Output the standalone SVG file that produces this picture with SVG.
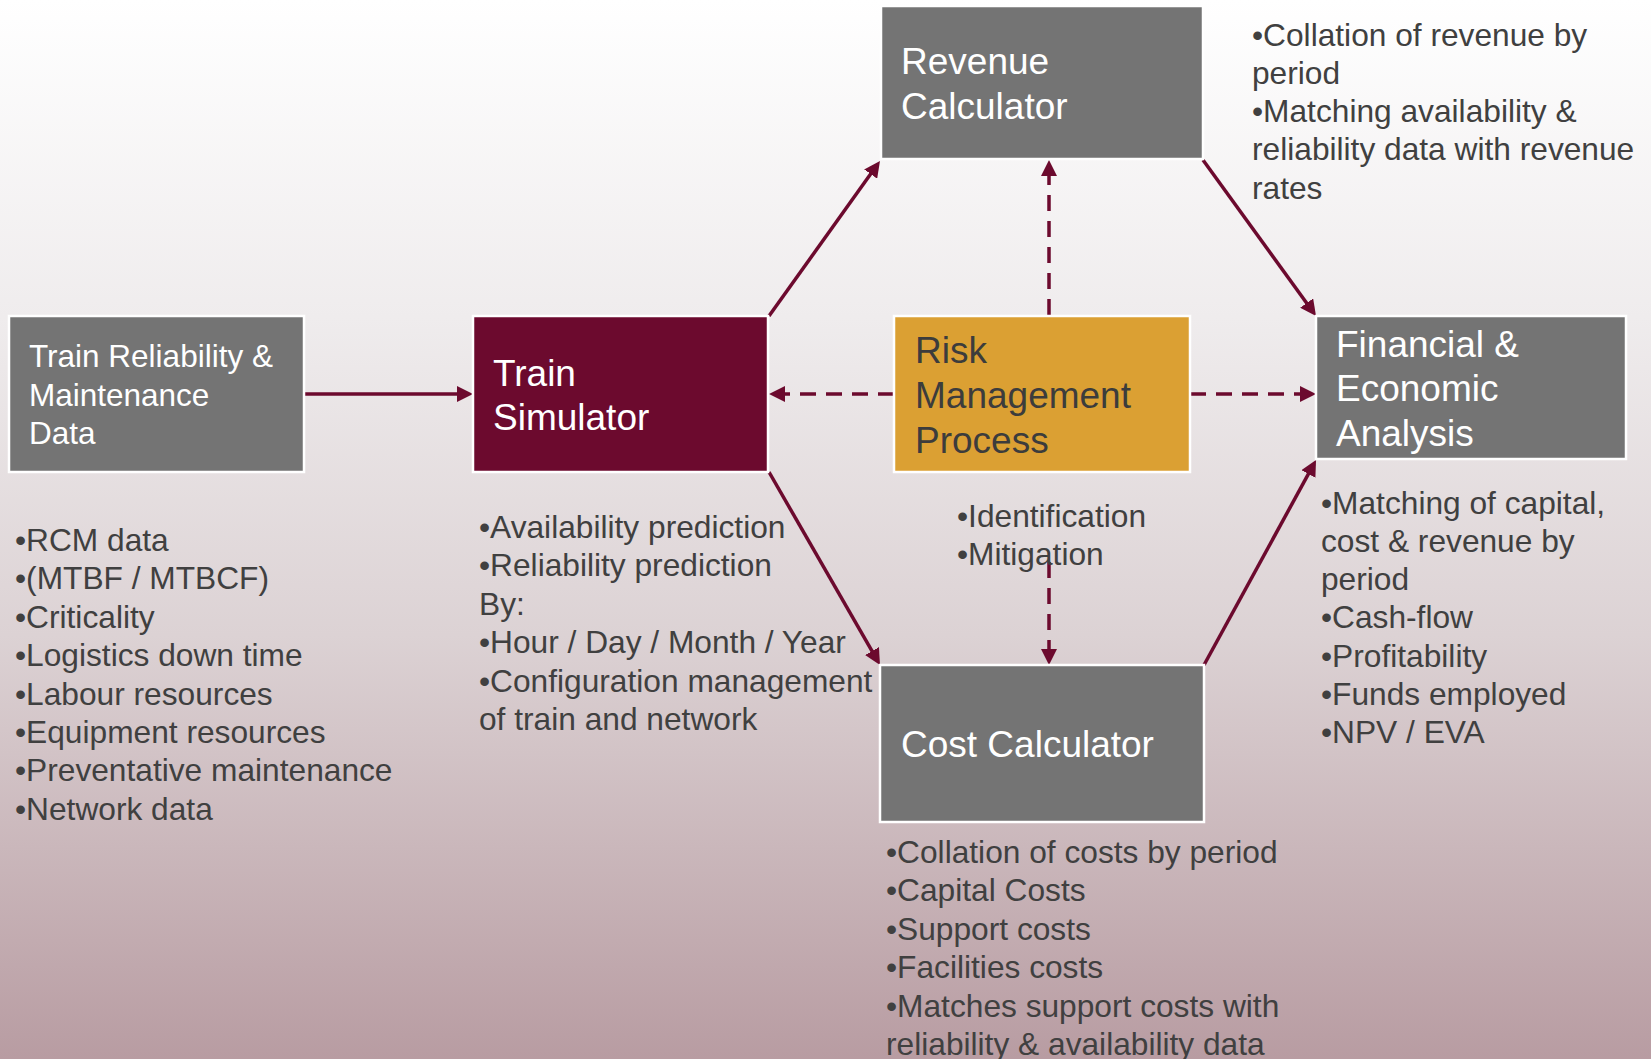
<svg xmlns="http://www.w3.org/2000/svg" width="1651" height="1059" viewBox="0 0 1651 1059">
<style>
.box{stroke:#ffffff;stroke-width:2.5}
.gray{fill:#747474}
.maroon{fill:#6C0A2E}
.gold{fill:#DBA033}
.big{font-family:"Liberation Sans",Arial,sans-serif;font-size:37px;fill:#ffffff}
.mid{font-family:"Liberation Sans",Arial,sans-serif;font-size:31.5px;fill:#ffffff}
.dark{fill:#3c3c3c}
.bul{font-family:"Liberation Sans",Arial,sans-serif;font-size:31.7px;fill:#404040}
.con{stroke:#6C0A2E;stroke-width:3.5;fill:none}
.dash{stroke-dasharray:16 10}
</style>
<defs>
<linearGradient id="bg" x1="0" y1="0" x2="0" y2="1">
<stop offset="0" stop-color="#ffffff"/>
<stop offset="0.3" stop-color="#efeced"/>
<stop offset="0.6" stop-color="#dcd2d4"/>
<stop offset="1" stop-color="#b89ca2"/>
</linearGradient>
<marker id="ah" markerUnits="userSpaceOnUse" markerWidth="16" markerHeight="16" refX="3" refY="8" orient="auto">
<path d="M0,0 L16,8 L0,16 z" fill="#6C0A2E"/>
</marker>
</defs>
<rect x="0" y="0" width="1651" height="1059" fill="url(#bg)"/>

<g id="connectors">
<line class="con" x1="304" y1="394" x2="460" y2="394" marker-end="url(#ah)"/>
<line class="con" x1="769" y1="316" x2="872.4" y2="171.6" marker-end="url(#ah)"/>
<line class="con" x1="1203" y1="160" x2="1308.4" y2="305.5" marker-end="url(#ah)"/>
<line class="con" x1="769" y1="472" x2="873.5" y2="653.7" marker-end="url(#ah)"/>
<line class="con" x1="1204" y1="665" x2="1309.8" y2="471.4" marker-end="url(#ah)"/>
<line class="con dash" x1="894" y1="394" x2="782" y2="394" marker-end="url(#ah)"/>
<line class="con dash" x1="1190" y1="394" x2="1303" y2="394" marker-end="url(#ah)"/>
<line class="con dash" x1="1049" y1="315" x2="1049" y2="173" marker-end="url(#ah)"/>
<line class="con dash" x1="1049" y1="562" x2="1049" y2="652" marker-end="url(#ah)"/>
</g>

<g id="train-reliability">
<rect class="box gray" x="9" y="316" width="295" height="156"/>
<text class="mid" x="29" y="367">Train Reliability &amp;</text>
<text class="mid" x="29" y="406">Maintenance</text>
<text class="mid" x="29" y="444">Data</text>
</g>

<g id="train-simulator">
<rect class="box maroon" x="473" y="316" width="295" height="156"/>
<text class="big" x="493" y="386">Train</text>
<text class="big" x="493" y="430">Simulator</text>
</g>

<g id="revenue-calculator">
<rect class="box gray" x="881" y="6" width="322" height="153"/>
<text class="big" x="901" y="74">Revenue</text>
<text class="big" x="901" y="119">Calculator</text>
</g>

<g id="risk-management">
<rect class="box gold" x="894" y="316" width="296" height="156"/>
<text class="big dark" x="915" y="363">Risk</text>
<text class="big dark" x="915" y="408">Management</text>
<text class="big dark" x="915" y="453">Process</text>
</g>

<g id="financial-analysis">
<rect class="box gray" x="1316" y="316" width="310" height="143"/>
<text class="big" x="1336" y="357">Financial &amp;</text>
<text class="big" x="1336" y="401">Economic</text>
<text class="big" x="1336" y="446">Analysis</text>
</g>

<g id="cost-calculator">
<rect class="box gray" x="880" y="665" width="324" height="157"/>
<text class="big" x="901" y="757">Cost Calculator</text>
</g>

<g id="reliability-notes">
<text class="bul" x="15" y="551">•RCM data</text>
<text class="bul" x="15" y="589.4">•(MTBF / MTBCF)</text>
<text class="bul" x="15" y="627.8">•Criticality</text>
<text class="bul" x="15" y="666.2">•Logistics down time</text>
<text class="bul" x="15" y="704.6">•Labour resources</text>
<text class="bul" x="15" y="743">•Equipment resources</text>
<text class="bul" x="15" y="781.4">•Preventative maintenance</text>
<text class="bul" x="15" y="819.8">•Network data</text>
</g>

<g id="simulator-notes">
<text class="bul" x="479" y="537.5">•Availability prediction</text>
<text class="bul" x="479" y="576">•Reliability prediction</text>
<text class="bul" x="479" y="614.5">By:</text>
<text class="bul" x="479" y="653">•Hour / Day / Month / Year</text>
<text class="bul" x="479" y="691.5">•Configuration management</text>
<text class="bul" x="479" y="730">of train and network</text>
</g>

<g id="revenue-notes">
<text class="bul" x="1252" y="45.5">•Collation of revenue by</text>
<text class="bul" x="1252" y="83.8">period</text>
<text class="bul" x="1252" y="122.1">•Matching availability &amp;</text>
<text class="bul" x="1252" y="160.4">reliability data with revenue</text>
<text class="bul" x="1252" y="198.7">rates</text>
</g>

<g id="risk-notes">
<text class="bul" x="957" y="526.5">•Identification</text>
<text class="bul" x="957" y="564.5">•Mitigation</text>
</g>

<g id="financial-notes">
<text class="bul" x="1321" y="513.5">•Matching of capital,</text>
<text class="bul" x="1321" y="551.8">cost &amp; revenue by</text>
<text class="bul" x="1321" y="590.1">period</text>
<text class="bul" x="1321" y="628.4">•Cash-flow</text>
<text class="bul" x="1321" y="666.7">•Profitability</text>
<text class="bul" x="1321" y="705">•Funds employed</text>
<text class="bul" x="1321" y="743.3">•NPV / EVA</text>
</g>

<g id="cost-notes">
<text class="bul" x="886" y="863">•Collation of costs by period</text>
<text class="bul" x="886" y="901.4">•Capital Costs</text>
<text class="bul" x="886" y="939.8">•Support costs</text>
<text class="bul" x="886" y="978.2">•Facilities costs</text>
<text class="bul" x="886" y="1016.6">•Matches support costs with</text>
<text class="bul" x="886" y="1055">reliability &amp; availability data</text>
</g>
</svg>
